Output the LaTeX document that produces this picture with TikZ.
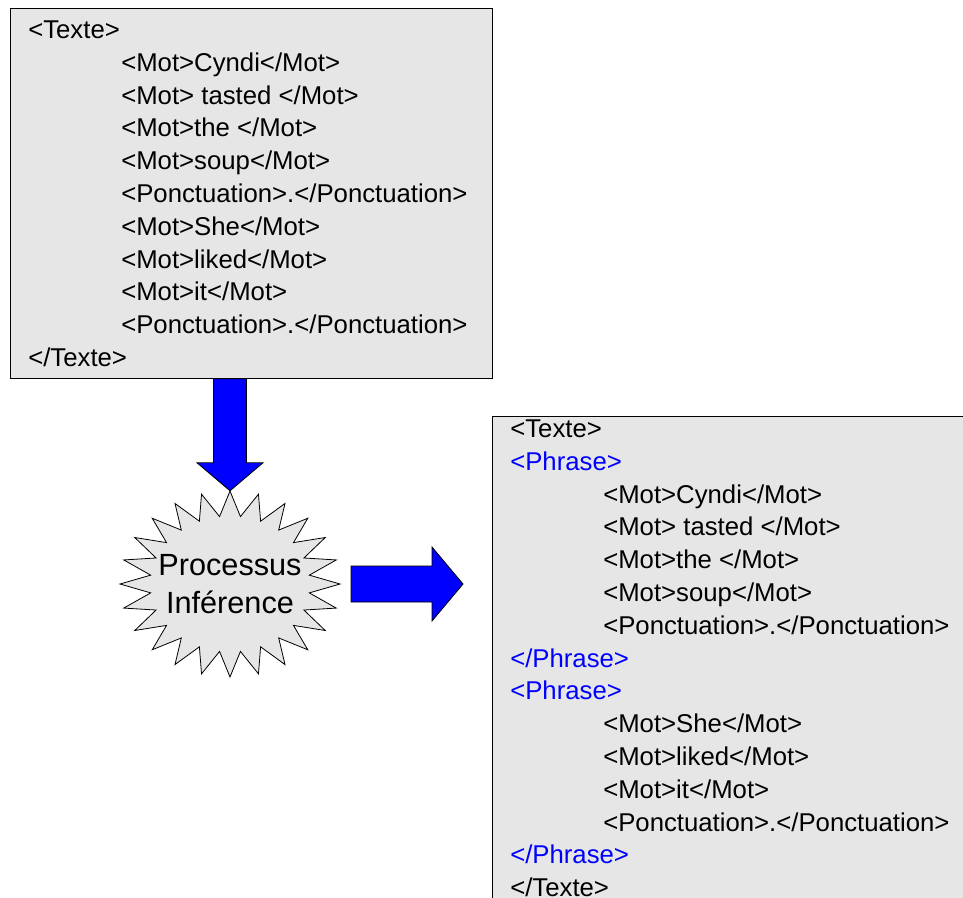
\documentclass[tikz,border=0pt]{standalone}
\usepackage{fontspec}
\setmainfont{Liberation Sans}
\usetikzlibrary{calc}
\definecolor{boxgray}{RGB}{230,230,230}
\newcommand{\tabmot}{\hspace*{69.75pt}}
\newcommand{\phr}[1]{\textcolor{blue}{#1}}

\begin{document}
\begin{tikzpicture}[x=0.75pt,y=-0.75pt]
    \tikzstyle{xmlbox} = [rectangle, draw, line width=0.6pt, fill=boxgray, inner sep=0pt, anchor=north west]
    \tikzstyle{xmltext} = [align=left, inner sep=0pt, anchor=north west, font=\fontsize{19.3}{24.6}\selectfont]
    \tikzstyle{bigarrow} = [draw, line width=0.6pt, fill=blue, line join=miter]
    \tikzstyle{burst} = [draw, line width=0.6pt, fill=boxgray]

    \useasboundingbox (0,0) rectangle (963,897);

    % Texte d'entree
    \node[xmlbox, minimum width=361.5pt, minimum height=277.5pt] (src) at (10,8) {};
    \node[xmltext] (srctxt) at (28,20.5) {<Texte>\\
        \tabmot<Mot>Cyndi</Mot>\\
        \tabmot<Mot> tasted </Mot>\\
        \tabmot<Mot>the </Mot>\\
        \tabmot<Mot>soup</Mot>\\
        \tabmot<Ponctuation>.</Ponctuation>\\
        \tabmot<Mot>She</Mot>\\
        \tabmot<Mot>liked</Mot>\\
        \tabmot<Mot>it</Mot>\\
        \tabmot<Ponctuation>.</Ponctuation>\\
        </Texte>};

    % Texte en phrases
    \node[xmlbox, minimum width=362.25pt, minimum height=370.5pt] (res) at (492,416) {};
    \node[xmltext] (restxt) at (510,419.5) {<Texte>\\
        \phr{<Phrase>}\\
        \tabmot<Mot>Cyndi</Mot>\\
        \tabmot<Mot> tasted </Mot>\\
        \tabmot<Mot>the </Mot>\\
        \tabmot<Mot>soup</Mot>\\
        \tabmot<Ponctuation>.</Ponctuation>\\
        \phr{</Phrase>}\\
        \phr{<Phrase>}\\
        \tabmot<Mot>She</Mot>\\
        \tabmot<Mot>liked</Mot>\\
        \tabmot<Mot>it</Mot>\\
        \tabmot<Ponctuation>.</Ponctuation>\\
        \phr{</Phrase>}\\
        </Texte>};

    % Processus
    \coordinate (c) at (230,584);
    \draw[burst] ($(c)+(90:110 and 93)$)
        \foreach \k in {0,...,23} {
            -- ($(c)+({97.5+15*\k}:80 and 68)$) -- ($(c)+({105+15*\k}:110 and 93)$)
        } -- cycle;
    \node[align=center, font=\fontsize{23}{28.5}\selectfont] (proc) at (c) {Processus\\Inférence};

    % Fleches
    \coordinate (dtop) at (src.south -| c);
    \draw[bigarrow] (dtop) ++(-16.5,0) -- ++(33,0) -- ++(0,84) -- ++(16.5,0)
        -- ++(-33,28) -- ++(-33,-28) -- ++(16.5,0) -- cycle;
    \coordinate (rstart) at ($(c)+(121,0)$);
    \draw[bigarrow] (rstart) ++(0,-18) -- ++(81,0) -- ++(0,-19) -- ++(31,37)
        -- ++(-31,37) -- ++(0,-19) -- ++(-81,0) -- cycle;
\end{tikzpicture}
\end{document}
